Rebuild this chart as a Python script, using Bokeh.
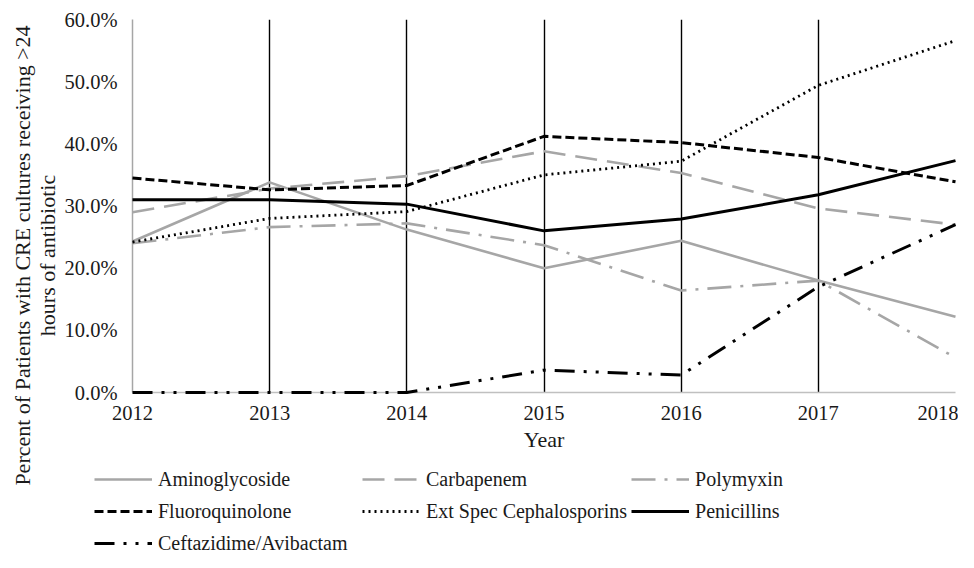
import math
from bokeh.plotting import figure
from bokeh.layouts import row, column
from bokeh.models import Range1d, FixedTicker, PrintfTickFormatter, Legend, LegendItem, Label
from bokeh.embed import file_html
from bokeh.resources import INLINE

years = [2012, 2013, 2014, 2015, 2016, 2017, 2018]
aminoglycoside = [24.3, 33.8, 26.2, 20.0, 24.4, 18.0, 12.2]
carbapenem = [29.0, 32.8, 34.8, 38.8, 35.3, 29.6, 27.0]
polymyxin = [24.0, 26.6, 27.2, 23.7, 16.4, 18.0, 5.6]
fluoroquinolone = [34.5, 32.6, 33.3, 41.2, 40.2, 37.8, 33.9]
ext_spec_ceph = [24.2, 28.0, 29.1, 35.0, 37.2, 49.4, 56.6]
penicillins = [31.0, 31.0, 30.3, 26.0, 27.9, 31.8, 37.3]
ceftazidime_avibactam = [0.0, 0.0, 0.0, 3.6, 2.8, 17.0, 27.0]
y_ticks = [0, 10, 20, 30, 40, 50, 60]
y_title = ["Percent of Patients with CRE cultures receiving >24", "hours of antibiotic"]

FONT = "Liberation Serif"
TXT = "#1a1a1a"
GRAY = "#a6a6a6"


def bare(fig):
    fig.outline_line_color = None
    fig.background_fill_color = "white"
    fig.border_fill_color = "white"
    fig.grid.visible = False
    fig.axis.visible = False


# ---- main chart ----
p = figure(width=898, height=460, output_backend="svg", toolbar_location=None,
           x_range=Range1d(2012, 2018), y_range=Range1d(0, 60),
           min_border_left=72, min_border_right=3, min_border_top=19,
           min_border_bottom=68, frame_align=False)
p.outline_line_color = None
p.background_fill_color = "white"
p.border_fill_color = "white"

p.xaxis.ticker = FixedTicker(ticks=years)
p.xaxis.axis_label = "Year"
p.xaxis.axis_label_text_font = FONT
p.xaxis.axis_label_text_font_size = "22px"
p.xaxis.axis_label_text_font_style = "normal"
p.xaxis.axis_label_text_color = TXT
p.xaxis.axis_label_standoff = 4
p.xaxis.axis_line_color = "#c0c0c0"
p.xaxis.axis_line_width = 1.5
p.xaxis.major_label_standoff = 7

p.yaxis.ticker = FixedTicker(ticks=y_ticks)
p.yaxis.formatter = PrintfTickFormatter(format="%.1f%%")
p.yaxis.axis_line_color = GRAY
p.yaxis.axis_line_width = 1.5
p.yaxis.major_label_standoff = 9

for ax in (p.xaxis, p.yaxis):
    ax.major_tick_line_color = None
    ax.minor_tick_line_color = None
    ax.major_label_text_font = FONT
    ax.major_label_text_font_size = "20.5px"
    ax.major_label_text_color = TXT

p.xgrid.ticker = FixedTicker(ticks=years[1:])
p.xgrid.grid_line_color = "black"
p.xgrid.grid_line_width = 1.4
p.ygrid.grid_line_color = None

series = [
    ("Aminoglycoside", aminoglycoside, GRAY, "solid", 2.6),
    ("Carbapenem", carbapenem, GRAY, "22 10", 2.6),
    ("Polymyxin", polymyxin, GRAY, "24 9 3 9", 2.6),
    ("Fluoroquinolone", fluoroquinolone, "black", "9 4", 3.0),
    ("Ext Spec Cephalosporins", ext_spec_ceph, "black", "2 4", 2.8),
    ("Penicillins", penicillins, "black", "solid", 3.0),
    ("Ceftazidime/Avibactam", ceftazidime_avibactam, "black", "20 9 3 9 3 9", 3.0),
]

for name, vals, color, dash, w in series:
    p.line(years, vals, line_color=color, line_dash=dash, line_width=w,
           line_join="round", level="overlay")

# ---- y-axis title panel ----
yt = figure(width=60, height=552, output_backend="svg", toolbar_location=None,
            x_range=Range1d(0, 60), y_range=Range1d(0, 552),
            min_border_left=0, min_border_right=0, min_border_top=0, min_border_bottom=0,
            frame_align=False)
bare(yt)
for txt, sx in zip(y_title, (22, 47)):
    yt.add_layout(Label(x=sx, y=297, x_units="screen", y_units="screen", text=txt,
                        angle=math.pi / 2, text_align="center", text_baseline="middle",
                        text_font=FONT, text_font_size="22px", text_color=TXT))

# ---- legend panel (series drawn off-range; only the legend shows) ----
lg = figure(width=898, height=92, output_backend="svg", toolbar_location=None,
            x_range=Range1d(0, 1), y_range=Range1d(0, 1),
            min_border_left=0, min_border_right=0, min_border_top=0, min_border_bottom=0,
            frame_align=False)
bare(lg)
items = []
for name, vals, color, dash, w in series:
    r = lg.line(years, vals, line_color=color, line_dash=dash, line_width=w)
    items.append(LegendItem(label=name, renderers=[r]))
legend = Legend(items=items, location=(34, -5), orientation="horizontal", ncols=3,
                border_line_color=None, background_fill_alpha=0,
                padding=0, margin=0, spacing=4,
                glyph_width=58, glyph_height=28, label_height=28,
                label_width=200, label_standoff=6,
                label_text_font=FONT, label_text_font_size="20px",
                label_text_color=TXT)
lg.add_layout(legend, "center")

layout = row(yt, column(p, lg))
open("out.html", "w").write(file_html(layout, INLINE))
